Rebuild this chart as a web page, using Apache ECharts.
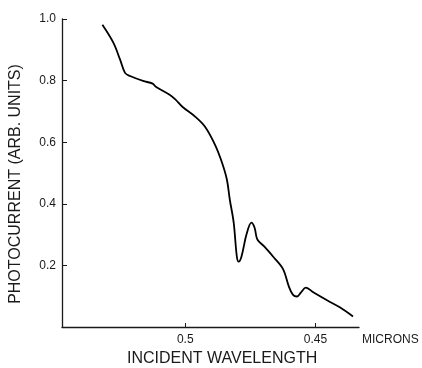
<!DOCTYPE html>
<html>
<head>
<meta charset="utf-8">
<script src="https://cdn.jsdelivr.net/npm/echarts@6/dist/echarts.min.js"></script>
<style>
  html, body { margin: 0; padding: 0; background: #fff; }
  #chart { width: 422px; height: 368px; }
</style>
</head>
<body>
<div id="chart"></div>
<script>
// wavelength (microns)
const wavelength = [
  0.5318, 0.5276, 0.5250, 0.5231, 0.5212, 0.5162, 0.5125, 0.5113, 0.5060,
  0.5037, 0.5011, 0.4962, 0.4924, 0.4886, 0.4859, 0.4840, 0.4829, 0.4814,
  0.4802, 0.4795, 0.4784, 0.4765, 0.4746, 0.4734, 0.4723, 0.4696, 0.4659,
  0.4624, 0.4602, 0.4587, 0.4571, 0.4556, 0.4537, 0.4507, 0.4454, 0.4405,
  0.4356
];
// photocurrent (arb. units)
const photocurrent = [
  0.981, 0.923, 0.868, 0.825, 0.815, 0.799, 0.790, 0.780, 0.754,
  0.738, 0.715, 0.683, 0.650, 0.592, 0.534, 0.478, 0.414, 0.339,
  0.229, 0.212, 0.229, 0.300, 0.339, 0.323, 0.284, 0.261, 0.225,
  0.187, 0.131, 0.105, 0.099, 0.112, 0.128, 0.112, 0.086, 0.063,
  0.034
];
const xTicks = [0.5, 0.45];
const yTicks = [0.2, 0.4, 0.6, 0.8, 1.0];

const font = 'Liberation Sans, DejaVu Sans, sans-serif';
const ink = '#1a1a1a';

const chart = echarts.init(document.getElementById('chart'));

chart.setOption({
  animation: false,
  title: {
    text: 'INCIDENT WAVELENGTH',
    left: 122,
    top: 346,
    textStyle: { fontFamily: font, fontSize: 16, fontWeight: 'normal', color: ink }
  },
  grid: { left: 58, right: 63, top: 19, bottom: 41 },
  xAxis: {
    type: 'value',
    inverse: true,
    min: 0.4333,
    max: 0.5473,
    // axis is inverted, so the right-hand end is the "start"
    name: 'MICRONS',
    nameLocation: 'start',
    nameGap: 3,
    nameTextStyle: {
      fontFamily: font, fontSize: 12, color: ink,
      align: 'left', verticalAlign: 'top', padding: [7, 0, 0, 0]
    },
    axisLine: { lineStyle: { color: ink, width: 1.3 } },
    axisTick: { inside: true, length: 4, customValues: xTicks, lineStyle: { color: ink } },
    axisLabel: {
      customValues: xTicks, margin: 7, color: ink, fontFamily: font, fontSize: 12,
      formatter: v => String(v)
    },
    splitLine: { show: false }
  },
  yAxis: {
    type: 'value',
    min: 0,
    max: 1,
    name: 'PHOTOCURRENT (ARB. UNITS)',
    nameLocation: 'middle',
    nameRotate: 90,
    nameGap: 38,
    nameTextStyle: { fontFamily: font, fontSize: 16, color: ink, padding: [0, 22, 0, 0] },
    axisLine: { show: true, lineStyle: { color: ink, width: 1.3 } },
    axisTick: { inside: true, length: 5, customValues: yTicks, lineStyle: { color: ink } },
    axisLabel: {
      customValues: yTicks, margin: 6, color: ink, fontFamily: font, fontSize: 12,
      formatter: v => v.toFixed(1)
    },
    splitLine: { show: false }
  },
  series: [{
    type: 'line',
    data: wavelength.map((w, i) => [w, photocurrent[i]]),
    smooth: 0.35,
    showSymbol: false,
    lineStyle: { color: '#000', width: 1.8 }
  }]
});
</script>
</body>
</html>
